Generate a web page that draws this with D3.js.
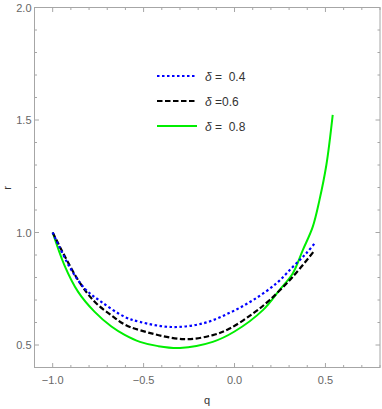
<!DOCTYPE html>
<html>
  <head>
    <meta charset="utf-8">
    <title>r vs q</title>
    <script src="https://d3js.org/d3.v7.min.js"></script>
    <style>
      body { margin: 0; background: #fff; }
      text { font-family: "Liberation Sans", Arial, sans-serif; }
    </style>
  </head>
  <body>
    <svg width="382" height="409"></svg>
    <script>
      // values
      var q04 = [-1.0, -0.907, -0.824, -0.733, -0.604, -0.522, -0.348, -0.174, -0.027, 0.101, 0.229, 0.32, 0.394, 0.445];
      var r04 = [1.0, 0.847, 0.751, 0.692, 0.625, 0.603, 0.58, 0.596, 0.643, 0.699, 0.773, 0.847, 0.907, 0.956];
      var q06 = [-1.0, -0.86, -0.769, -0.677, -0.604, -0.522, -0.28, -0.119, -0.027, 0.101, 0.192, 0.32, 0.434];
      var r06 = [1.0, 0.788, 0.692, 0.632, 0.591, 0.566, 0.526, 0.544, 0.573, 0.64, 0.699, 0.803, 0.914];
      var q08 = [-1.0, -0.934, -0.86, -0.769, -0.677, -0.604, -0.52, -0.42, -0.30, -0.12, 0.0, 0.156, 0.247, 0.32, 0.375, 0.43, 0.467, 0.505, 0.54];
      var r08 = [1.0, 0.852, 0.736, 0.647, 0.582, 0.545, 0.514, 0.495, 0.487, 0.514, 0.56, 0.655, 0.744, 0.818, 0.921, 1.025, 1.144, 1.30, 1.523];
      var xTicks = [-1.0, -0.5, 0.0, 0.5];
      var yTicks = [0.5, 1.0, 1.5, 2.0];
      var labels = ["0.4", "0.6", "0.8"];

      var svg = d3.select("svg");
      var mLeft = 34.5, mRight = 380, mTop = 7.5, mBottom = 367.5;
      var x = d3.scaleLinear().domain([-1.1, 0.8]).range([mLeft, mRight]);
      var y = d3.scaleLinear().domain([0.4, 2.0]).range([mBottom, mTop]);

      var frame = "#a6a6a6", tickCol = "#666";
      var fmt = function(d){ return d3.format(".1f")(d).replace("-", "\u2212"); };

      // frame
      svg.append("rect").attr("x", mLeft).attr("y", mTop)
        .attr("width", mRight - mLeft).attr("height", mBottom - mTop)
        .attr("fill", "none").attr("stroke", frame).attr("stroke-width", 1);

      // ticks on all sides, pointing inward
      var xMinor = d3.range(-11, 9).map(function(i){ return i / 10; });
      var yMinor = d3.range(4, 21).map(function(i){ return i / 10; });
      var isMajor = function(v){ return Math.abs(v * 2 - Math.round(v * 2)) < 1e-6; };
      var ticks = svg.append("g").attr("stroke", frame).attr("stroke-width", 1);
      xMinor.forEach(function(v){
        var len = isMajor(v) ? 4.5 : 2.5;
        ticks.append("line").attr("x1", x(v)).attr("x2", x(v)).attr("y1", mBottom).attr("y2", mBottom - len);
        ticks.append("line").attr("x1", x(v)).attr("x2", x(v)).attr("y1", mTop).attr("y2", mTop + len);
      });
      yMinor.forEach(function(v){
        var len = isMajor(v) ? 4.5 : 2.5;
        ticks.append("line").attr("y1", y(v)).attr("y2", y(v)).attr("x1", mLeft).attr("x2", mLeft + len);
        ticks.append("line").attr("y1", y(v)).attr("y2", y(v)).attr("x1", mRight).attr("x2", mRight - len);
      });

      svg.append("g").selectAll("text").data(xTicks).enter().append("text")
        .attr("x", function(d){ return x(d); }).attr("y", mBottom + 16)
        .attr("text-anchor", "middle").attr("font-size", 11).attr("fill", tickCol)
        .text(fmt);
      svg.append("g").selectAll("text").data(yTicks).enter().append("text")
        .attr("x", mLeft - 3).attr("y", function(d){ return y(d) + 4; })
        .attr("text-anchor", "end").attr("font-size", 11).attr("fill", tickCol)
        .text(fmt);

      svg.append("text").attr("x", 207).attr("y", 404).attr("text-anchor", "middle")
        .attr("font-size", 11).attr("fill", "#333").text("q");
      svg.append("text").attr("transform", "translate(11,188) rotate(-90)")
        .attr("text-anchor", "middle").attr("font-size", 11).attr("fill", "#333").text("r");

      // curves
      var series = [
        { q: q04, r: r04, color: "#0000ff", dash: "2.5,2.5", w: 2.2 },
        { q: q06, r: r06, color: "#000000", dash: "5.5,2.5", w: 2.2 },
        { q: q08, r: r08, color: "#00ee00", dash: null, w: 2 }
      ];
      var line = d3.line()
        .x(function(d){ return x(d[0]); })
        .y(function(d){ return y(d[1]); })
        .curve(d3.curveCatmullRom.alpha(0.5));

      // draw green first, then black, then blue on top
      [2, 1, 0].forEach(function(i){
        var s = series[i];
        svg.append("path")
          .attr("d", line(d3.zip(s.q, s.r)))
          .attr("fill", "none").attr("stroke", s.color)
          .attr("stroke-width", s.w)
          .attr("stroke-dasharray", s.dash);
      });

      // legend
      var lg = svg.append("g");
      series.forEach(function(s, i){
        var ly = 76 + i * 25;
        lg.append("line").attr("x1", 157).attr("x2", 197).attr("y1", ly).attr("y2", ly)
          .attr("stroke", s.color).attr("stroke-width", s.w).attr("stroke-dasharray", s.dash);
        var t = lg.append("text").attr("x", 205).attr("y", ly + 4.5)
          .attr("font-size", 12).attr("fill", "#333");
        t.append("tspan").attr("font-style", "italic").text("\u03b4");
        t.append("tspan").attr("xml:space", "preserve").text(i == 1 ? " =" + labels[i] : " =  " + labels[i]);
      });
    </script>
  </body>
</html>
